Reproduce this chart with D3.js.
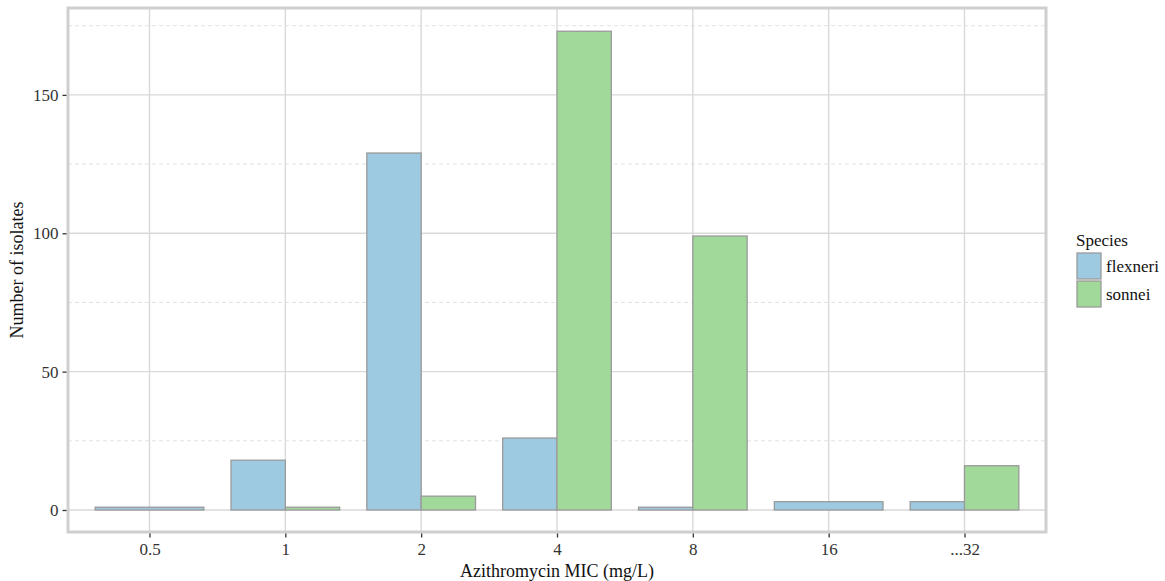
<!DOCTYPE html>
<html lang="en">
<head>
<meta charset="UTF-8">
<title>Azithromycin MIC</title>
<style>
  body { margin: 0; background: #fff; }
  svg { display: block; font-family: "Liberation Serif", "DejaVu Serif", serif; }
</style>
</head>
<body>
<svg width="1165" height="581"></svg>
<script src="https://cdn.jsdelivr.net/npm/d3@7.8.5/dist/d3.min.js"></script>
<script>
const mics = ['0.5', '1', '2', '4', '8', '16', '...32']
const species = ['flexneri', 'sonnei']
// null = no isolates of that species at this MIC (bar then takes the full slot)
const flexneri = [1, 18, 129, 26, 1, 3, 3]
const sonnei = [null, 1, 5, 173, 99, null, 16]
const yTicks = [0, 50, 100, 150]
const yMinor = [25, 75, 125, 175]
const colors = { flexneri: '#9ecae1', sonnei: '#a1d99b' }

const svg = d3.select('svg')
const panel = { left: 68, right: 1046, top: 8, bottom: 532 }

const x = d3.scaleLinear()
  .domain([0.4, mics.length + 0.6])
  .range([panel.left, panel.right])
const y = d3.scaleLinear()
  .domain([-7.95, 181.4])
  .range([panel.bottom, panel.top])

// grid
const grid = svg.append('g')
grid.selectAll('.minor').data(yMinor).join('line')
  .attr('x1', panel.left).attr('x2', panel.right)
  .attr('y1', d => y(d)).attr('y2', d => y(d))
  .attr('stroke', '#e2e2e2').attr('stroke-width', 1)
  .attr('stroke-dasharray', '4,3')
grid.selectAll('.major').data(yTicks).join('line')
  .attr('x1', panel.left).attr('x2', panel.right)
  .attr('y1', d => y(d)).attr('y2', d => y(d))
  .attr('stroke', '#d9d9d9').attr('stroke-width', 1.4)
grid.selectAll('.vx').data(mics).join('line')
  .attr('x1', (d, i) => x(i + 1)).attr('x2', (d, i) => x(i + 1))
  .attr('y1', panel.top).attr('y2', panel.bottom)
  .attr('stroke', '#d9d9d9').attr('stroke-width', 1.4)

// bars
const bars = []
mics.forEach((m, i) => {
  const vals = [flexneri[i], sonnei[i]]
  const present = species.filter((s, j) => vals[j] !== null)
  const w = 0.8 / present.length
  present.forEach((s, k) => {
    const v = vals[species.indexOf(s)]
    bars.push({ s, v, x0: i + 1 - 0.4 + k * w, x1: i + 1 - 0.4 + (k + 1) * w })
  })
})
svg.append('g').selectAll('rect').data(bars).join('rect')
  .attr('x', d => x(d.x0))
  .attr('width', d => x(d.x1) - x(d.x0))
  .attr('y', d => y(d.v))
  .attr('height', d => y(0) - y(d.v))
  .attr('fill', d => colors[d.s])
  .attr('stroke', '#9a9a9a')
  .attr('stroke-width', 1.3)

// panel border
svg.append('rect')
  .attr('x', panel.left).attr('y', panel.top)
  .attr('width', panel.right - panel.left).attr('height', panel.bottom - panel.top)
  .attr('fill', 'none').attr('stroke', '#cfcfcf').attr('stroke-width', 3)

// axes
const yAxis = svg.append('g').attr('transform', `translate(${panel.left - 1.5},0)`)
  .call(d3.axisLeft(y).tickValues(yTicks).tickSize(4).tickPadding(4))
const xAxis = svg.append('g').attr('transform', `translate(0,${panel.bottom + 1.5})`)
  .call(d3.axisBottom(x).tickValues(d3.range(1, mics.length + 1))
    .tickFormat(d => mics[d - 1]).tickSize(4).tickPadding(5))
;[yAxis, xAxis].forEach(a => {
  a.select('.domain').remove()
  a.selectAll('line').attr('stroke', '#333').attr('stroke-width', 1.3)
  a.selectAll('text').attr('font-size', 17).attr('fill', '#333')
    .attr('font-family', '"Liberation Serif", serif')
})

svg.append('text')
  .attr('x', (panel.left + panel.right) / 2).attr('y', 577)
  .attr('text-anchor', 'middle').attr('font-size', 18).attr('fill', '#111')
  .text('Azithromycin MIC (mg/L)')
svg.append('text')
  .attr('transform', `translate(23,${(panel.top + panel.bottom) / 2}) rotate(-90)`)
  .attr('text-anchor', 'middle').attr('font-size', 18).attr('fill', '#111')
  .text('Number of isolates')

// legend
const lg = svg.append('g').attr('transform', 'translate(1076,0)')
lg.append('text').attr('x', 0).attr('y', 246).attr('font-size', 17).attr('fill', '#111').text('Species')
lg.selectAll('rect').data(species).join('rect')
  .attr('x', 1).attr('y', (d, i) => 253 + i * 28)
  .attr('width', 24).attr('height', 26)
  .attr('fill', d => colors[d]).attr('stroke', '#9a9a9a').attr('stroke-width', 1.3)
lg.selectAll('.lab').data(species).join('text')
  .attr('x', 30).attr('y', (d, i) => 272 + i * 28)
  .attr('font-size', 17).attr('fill', '#111').text(d => d)
</script>
</body>
</html>
